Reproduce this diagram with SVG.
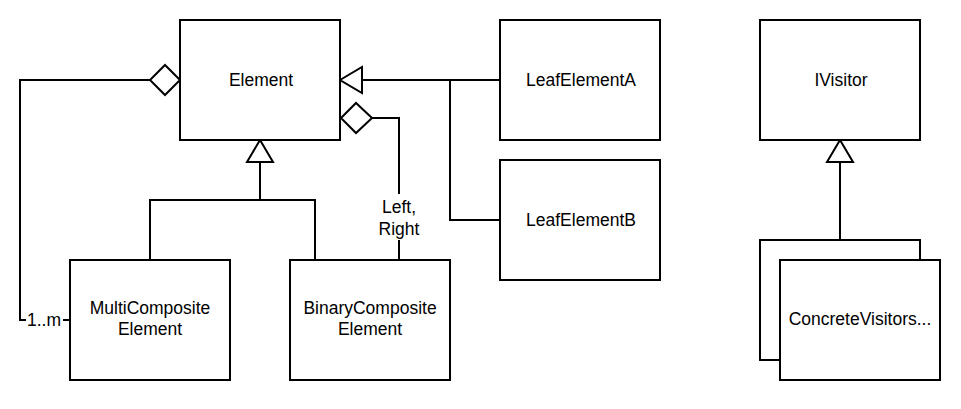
<svg xmlns="http://www.w3.org/2000/svg" width="961" height="409" viewBox="0 0 961 409">
<style>
.box{fill:#fff;stroke:#000;stroke-width:2}
.ln{fill:none;stroke:#000;stroke-width:2}
.hd{fill:#fff;stroke:#000;stroke-width:2}
text{font-family:"Liberation Sans",Arial,sans-serif;font-size:17.5px;fill:#000;text-anchor:middle}
.lbl{fill:#fff;stroke:none}
</style>
<rect width="961" height="409" fill="#fff"/>
<g id="connectors">
<path class="ln" d="M150,80 H20 V320 H70"/>
<rect class="lbl" x="26" y="309" width="37" height="20"/>
<text x="44" y="326">1..m</text>
<polygon class="hd" points="180,80 165,65 150,80 165,95"/>
<path class="ln" d="M362,80 H500 M450,80 V220 H500"/>
<polygon class="hd" points="340,80 362,67 362,93"/>
<path class="ln" d="M372,118 H399 V260"/>
<polygon class="hd" points="341,118 356,103 372,118 356,133"/>
<rect class="lbl" x="374" y="194" width="50" height="46"/>
<text x="399" y="213">Left,</text>
<text x="399" y="235">Right</text>
<path class="ln" d="M260,162 V200 M150,260 V200 H315 V260"/>
<polygon class="hd" points="260,140 247,162 273,162"/>
<path class="ln" d="M840,162 V240"/>
<polygon class="hd" points="840,140 827,162 853,162"/>
</g>
<g id="element"><rect class="box" x="180" y="20" width="160" height="120"/><text x="261" y="86">Element</text></g>
<g id="leafA"><rect class="box" x="500" y="20" width="160" height="120"/><text x="581" y="86">LeafElementA</text></g>
<g id="leafB"><rect class="box" x="500" y="160" width="160" height="120"/><text x="581" y="226">LeafElementB</text></g>
<g id="ivisitor"><rect class="box" x="760" y="20" width="160" height="120"/><text x="841" y="86">IVisitor</text></g>
<g id="multi"><rect class="box" x="70" y="260" width="160" height="120"/><text x="150" y="314">MultiComposite</text><text x="150" y="335">Element</text></g>
<g id="binary"><rect class="box" x="290" y="260" width="160" height="120"/><text x="370" y="314">BinaryComposite</text><text x="370" y="335">Element</text></g>
<g id="concrete"><rect class="box" x="760" y="240" width="160" height="120"/><rect class="box" x="780" y="260" width="160" height="120"/><text x="860" y="325">ConcreteVisitors...</text></g>
</svg>
